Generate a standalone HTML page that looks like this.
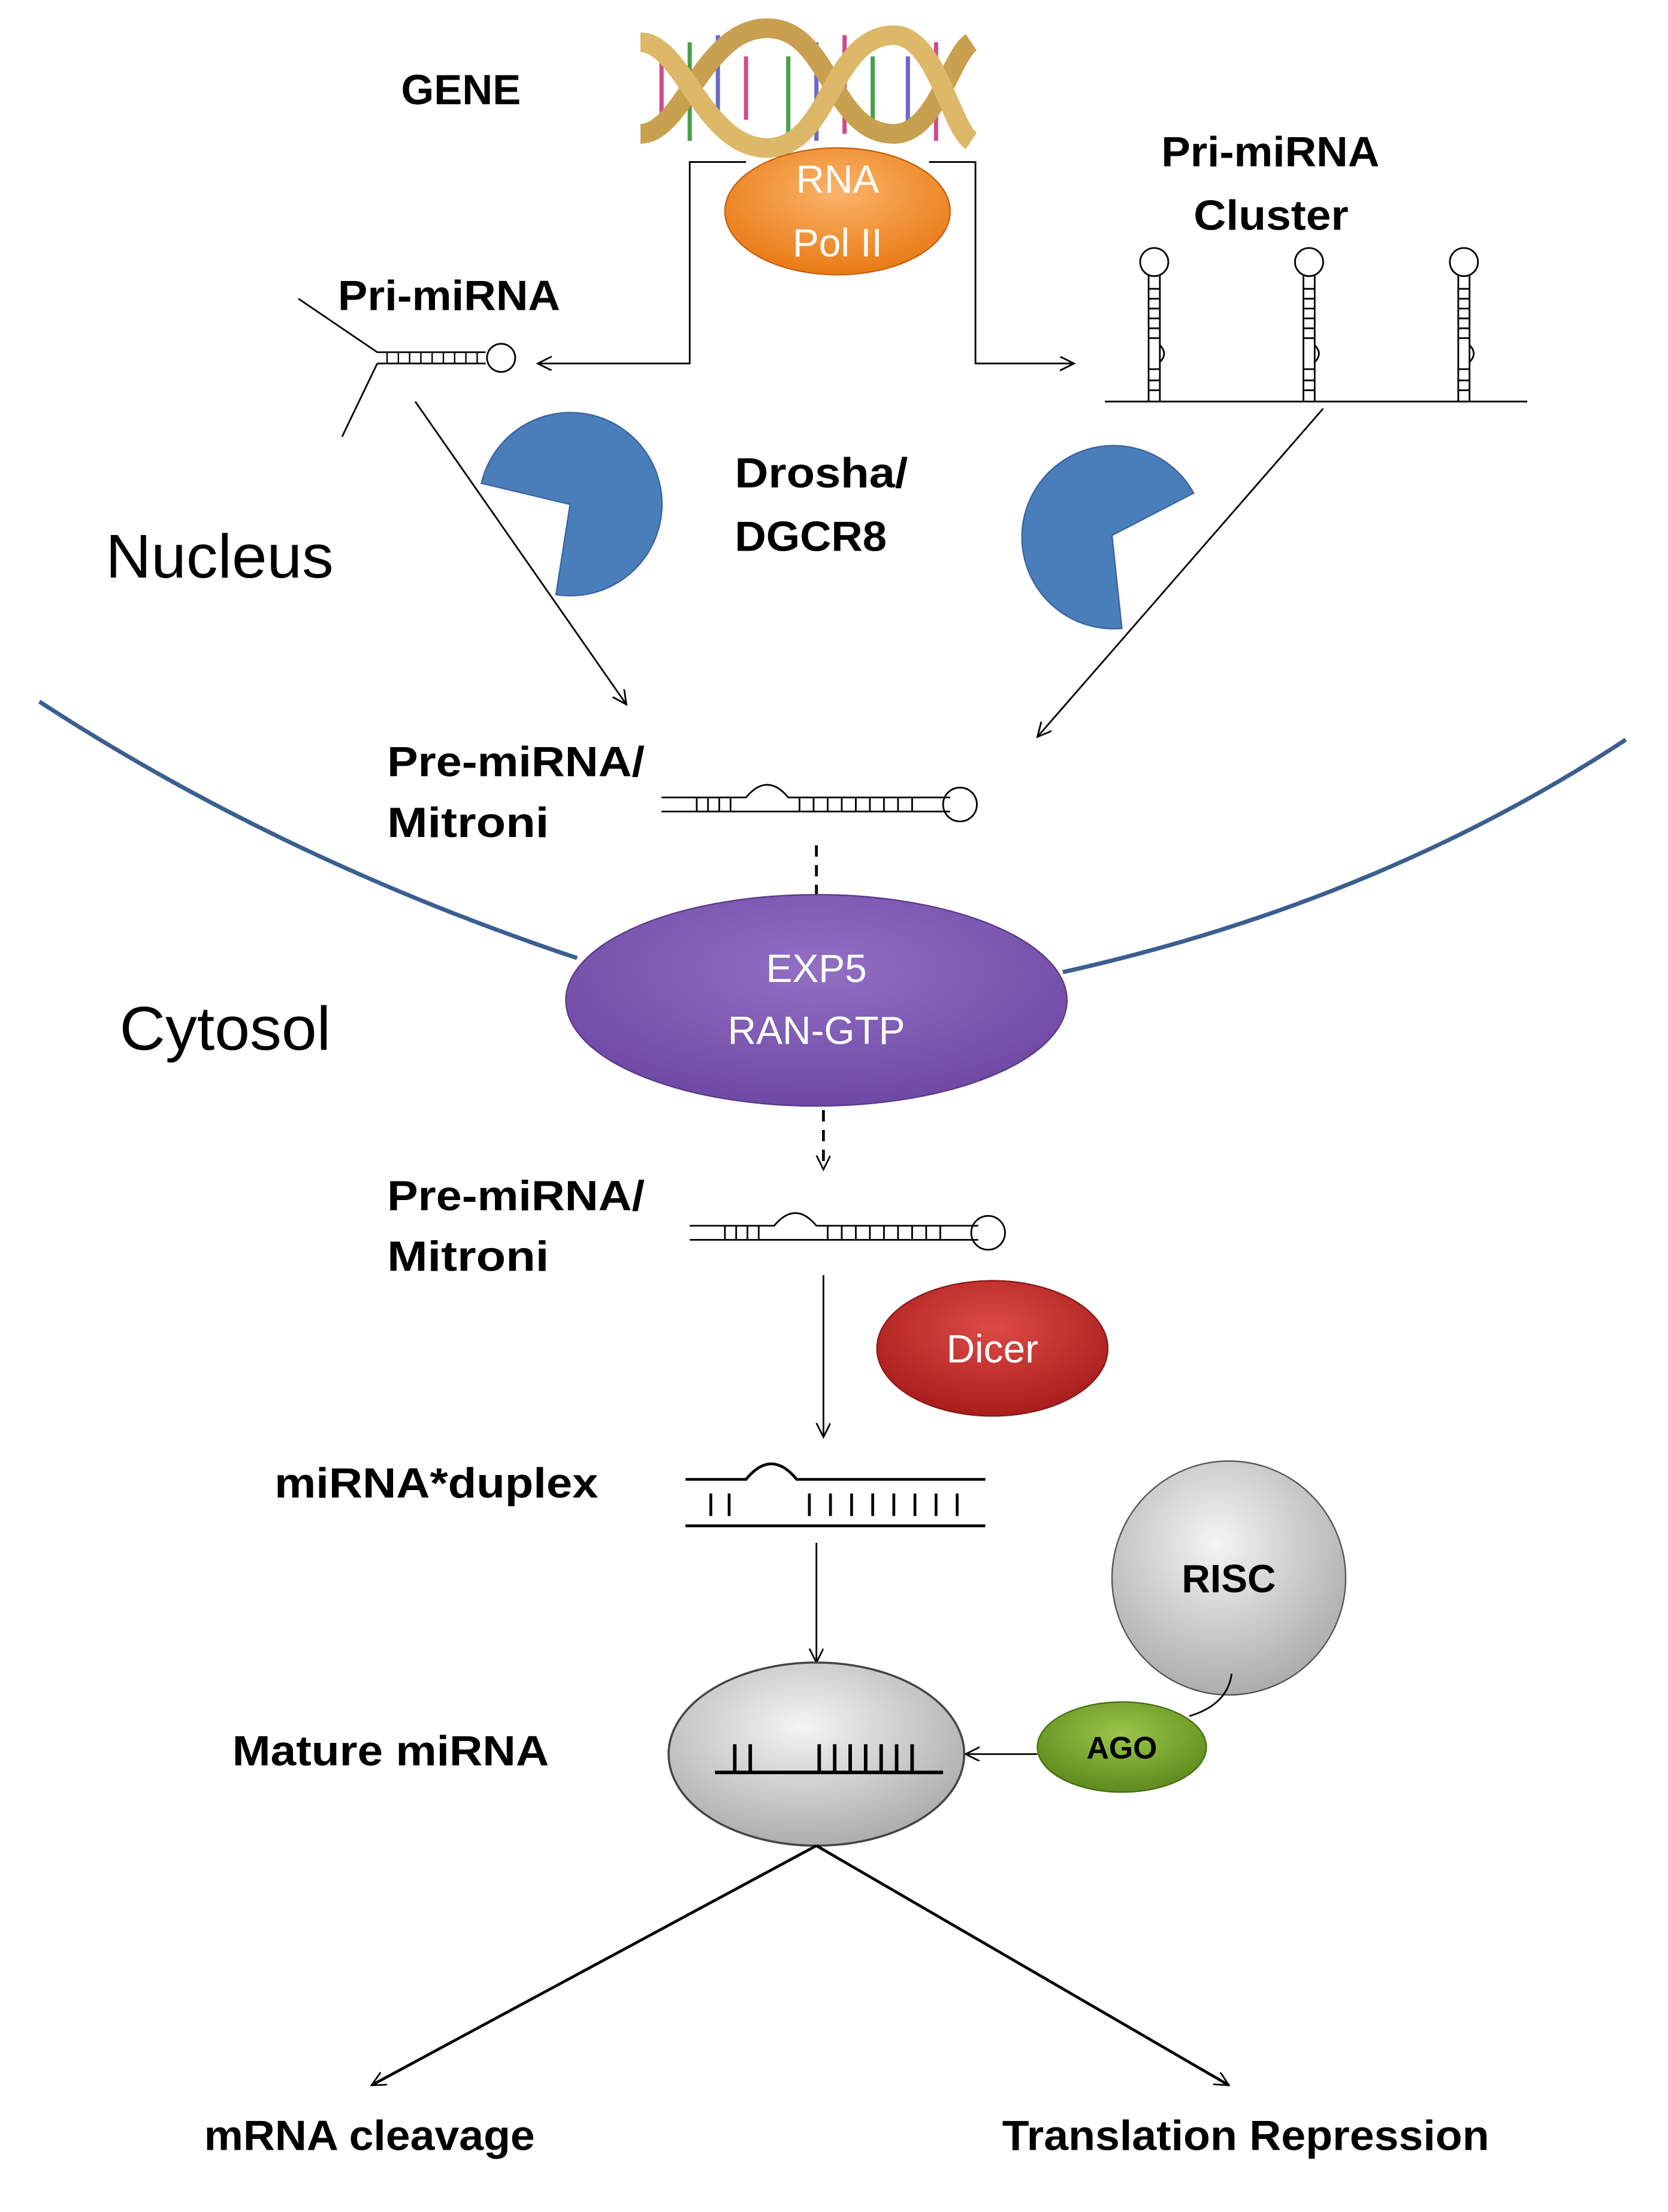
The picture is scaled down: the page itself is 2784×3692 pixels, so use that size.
<!DOCTYPE html>
<html><head><meta charset="utf-8"><style>
html,body{margin:0;padding:0;background:#fff;}
svg{display:block;}
text{font-family:"Liberation Sans",sans-serif;}
</style></head><body>
<svg width="2784" height="3692" viewBox="0 0 1185 1570" preserveAspectRatio="none" xmlns="http://www.w3.org/2000/svg">
<defs>
<marker id="a" markerWidth="12" markerHeight="12" refX="10" refY="5" orient="auto" markerUnits="userSpaceOnUse"><path d="M0,0 L10,5 L0,10" fill="none" stroke="#000" stroke-width="1.2"/></marker>
<radialGradient id="og" cx="50%" cy="35%" r="65%"><stop offset="0" stop-color="#fbb36a"/><stop offset="1" stop-color="#e97b14"/></radialGradient>
<radialGradient id="pg" cx="50%" cy="35%" r="65%"><stop offset="0" stop-color="#9270c4"/><stop offset="1" stop-color="#6e48a4"/></radialGradient>
<radialGradient id="rg" cx="50%" cy="35%" r="65%"><stop offset="0" stop-color="#dc4a45"/><stop offset="1" stop-color="#a81c1c"/></radialGradient>
<radialGradient id="gg" cx="45%" cy="35%" r="70%"><stop offset="0" stop-color="#f4f4f4"/><stop offset="1" stop-color="#a8a8a8"/></radialGradient>
<radialGradient id="agg" cx="50%" cy="35%" r="65%"><stop offset="0" stop-color="#9cc64a"/><stop offset="1" stop-color="#5c8a1c"/></radialGradient>
</defs>

<!-- DNA -->
<g stroke-width="3">
<line x1="470" y1="40" x2="470" y2="95" stroke="#d04a8a"/><line x1="490" y1="30" x2="490" y2="100" stroke="#4aa04a"/>
<line x1="510" y1="25" x2="510" y2="95" stroke="#6a6ac8"/><line x1="530" y1="40" x2="530" y2="85" stroke="#d04a8a"/>
<line x1="560" y1="40" x2="560" y2="95" stroke="#4aa04a"/><line x1="580" y1="30" x2="580" y2="100" stroke="#6a6ac8"/>
<line x1="600" y1="25" x2="600" y2="95" stroke="#d04a8a"/><line x1="620" y1="40" x2="620" y2="85" stroke="#4aa04a"/>
<line x1="645" y1="40" x2="645" y2="95" stroke="#6a6ac8"/><line x1="665" y1="30" x2="665" y2="100" stroke="#d04a8a"/>
</g>
<path d="M455,95 C485,95 500,20 545,20 C590,20 590,95 635,95 C665,95 675,40 690,30" fill="none" stroke="#c9a050" stroke-width="14"/>
<path d="M455,30 C485,30 500,105 545,105 C590,105 590,25 635,25 C665,25 675,90 690,100" fill="none" stroke="#dcb868" stroke-width="14"/>

<g font-weight="bold" font-size="30">
<text x="285" y="74" textLength="85" lengthAdjust="spacingAndGlyphs">GENE</text>
<text x="240" y="220" textLength="158" lengthAdjust="spacingAndGlyphs">Pri-miRNA</text>
<text x="825" y="118" textLength="155" lengthAdjust="spacingAndGlyphs">Pri-miRNA</text>
<text x="848" y="163" textLength="110" lengthAdjust="spacingAndGlyphs">Cluster</text>
<text x="522" y="346" textLength="123" lengthAdjust="spacingAndGlyphs">Drosha/</text>
<text x="522" y="391" textLength="108" lengthAdjust="spacingAndGlyphs">DGCR8</text>
<text x="275" y="551" textLength="183" lengthAdjust="spacingAndGlyphs">Pre-miRNA/</text>
<text x="275" y="594" textLength="115" lengthAdjust="spacingAndGlyphs">Mitroni</text>
<text x="275" y="859" textLength="183" lengthAdjust="spacingAndGlyphs">Pre-miRNA/</text>
<text x="275" y="902" textLength="115" lengthAdjust="spacingAndGlyphs">Mitroni</text>
<text x="195" y="1063" textLength="230" lengthAdjust="spacingAndGlyphs">miRNA*duplex</text>
<text x="165" y="1253" textLength="225" lengthAdjust="spacingAndGlyphs">Mature miRNA</text>
<text x="145" y="1526" textLength="235" lengthAdjust="spacingAndGlyphs">mRNA cleavage</text>
<text x="712" y="1526" textLength="346" lengthAdjust="spacingAndGlyphs">Translation Repression</text>
</g>

<!-- Pol II brackets -->
<polyline points="530,115 490,115 490,258 382,258" fill="none" stroke="#000" stroke-width="1.2" marker-end="url(#a)"/>
<polyline points="660,115 693,115 693,258 763,258" fill="none" stroke="#000" stroke-width="1.2" marker-end="url(#a)"/>
<ellipse cx="595" cy="150" rx="80" ry="45" fill="url(#og)" stroke="#c46210" stroke-width="1"/>
<text x="595" y="137" font-size="28" fill="#fff" text-anchor="middle">RNA</text>
<text x="595" y="182" font-size="28" fill="#fff" text-anchor="middle">Pol II</text>

<!-- Pri-miRNA -->
<path d="M212,212 L268,250 L345,250 M268,258 L345,258 M268,258 L243,310" fill="none" stroke="#000" stroke-width="1.2"/>
<circle cx="356" cy="254" r="10" fill="none" stroke="#000" stroke-width="1.2"/>
<path d="M275,250v8M283,250v8M291,250v8M299,250v8M307,250v8M315,250v8M323,250v8M331,250v8M339,250v8" stroke="#000" stroke-width="1"/>

<!-- Cluster -->
<line x1="785" y1="285" x2="1085" y2="285" stroke="#000" stroke-width="1.2"/>
<g fill="none" stroke="#000" stroke-width="1.2">
<g id="hp"><path d="M816,285 V195 M824,285 V195"/><circle cx="820" cy="186" r="10"/><path d="M816,205h8M816,212h8M816,219h8M816,226h8M816,233h8M816,240h8M816,262h8M816,270h8M816,277h8"/><path d="M824,245 q6,6 0,12"/></g>
<use href="#hp" x="110"/><use href="#hp" x="220"/>
</g>

<!-- Pacmen -->
<path d="M405,358 L342,343 A65,65 0 1 1 395,422 Z" fill="#4a7ebb" stroke="#3a64a0"/>
<path d="M790,380 L797,446 A65,65 0 1 1 848,350 Z" fill="#4a7ebb" stroke="#3a64a0"/>
<text x="75" y="410" font-size="44" textLength="162" lengthAdjust="spacingAndGlyphs">Nucleus</text>

<line x1="295" y1="285" x2="445" y2="500" stroke="#000" stroke-width="1.2" marker-end="url(#a)"/>
<line x1="940" y1="290" x2="737" y2="523" stroke="#000" stroke-width="1.2" marker-end="url(#a)"/>

<!-- membrane -->
<path d="M28,498 Q200,610 410,680" fill="none" stroke="#3a5f8f" stroke-width="3"/>
<path d="M755,690 Q980,640 1155,525" fill="none" stroke="#3a5f8f" stroke-width="3"/>

<!-- pre-miRNA 1 -->
<g fill="none" stroke="#000" stroke-width="1.2">
<path d="M470,566 H530 Q545,548 560,566 H675 M470,576 H675"/>
<circle cx="682" cy="571" r="12"/>
<path d="M495,566v10M503,566v10M511,566v10M519,566v10M568,566v10M578,566v10M588,566v10M598,566v10M608,566v10M618,566v10M628,566v10M638,566v10M648,566v10"/>
</g>
<line x1="580" y1="600" x2="580" y2="635" stroke="#000" stroke-width="2" stroke-dasharray="8,6"/>

<ellipse cx="580" cy="710" rx="178" ry="75" fill="url(#pg)" stroke="#5a3a8a"/>
<text x="580" y="697" font-size="28" fill="#fff" text-anchor="middle">EXP5</text>
<text x="580" y="741" font-size="28" fill="#fff" text-anchor="middle">RAN-GTP</text>
<text x="85" y="745" font-size="44" textLength="150" lengthAdjust="spacingAndGlyphs">Cytosol</text>

<line x1="585" y1="788" x2="585" y2="830" stroke="#000" stroke-width="2" stroke-dasharray="8,6" marker-end="url(#a)"/>

<!-- pre-miRNA 2 -->
<g fill="none" stroke="#000" stroke-width="1.2">
<path d="M490,870 H550 Q565,852 580,870 H695 M490,880 H695"/>
<circle cx="702" cy="875" r="12"/>
<path d="M515,870v10M523,870v10M531,870v10M539,870v10M588,870v10M598,870v10M608,870v10M618,870v10M628,870v10M638,870v10M648,870v10M658,870v10M668,870v10"/>
</g>
<line x1="585" y1="905" x2="585" y2="1020" stroke="#000" stroke-width="1.2" marker-end="url(#a)"/>
<ellipse cx="705" cy="957" rx="82" ry="48" fill="url(#rg)" stroke="#8a1a1a"/>
<text x="705" y="967" font-size="28" fill="#fff" text-anchor="middle">Dicer</text>

<!-- duplex -->
<g fill="none" stroke="#000" stroke-width="2">
<path d="M487,1050 H530 Q548,1028 566,1050 H700 M487,1083 H700"/>
<path d="M505,1060v16M518,1060v16M575,1060v16M590,1060v16M605,1060v16M620,1060v16M635,1060v16M650,1060v16M665,1060v16M680,1060v16"/>
</g>
<line x1="580" y1="1095" x2="580" y2="1180" stroke="#000" stroke-width="1.2" marker-end="url(#a)"/>

<!-- RISC / AGO -->
<circle cx="873" cy="1120" r="83" fill="url(#gg)" stroke="#555"/>
<text x="873" y="1130" font-size="28" font-weight="bold" text-anchor="middle">RISC</text>
<path d="M875,1188 Q872,1210 845,1218" fill="none" stroke="#000" stroke-width="1.2"/>
<ellipse cx="797" cy="1240" rx="60" ry="32" fill="url(#agg)" stroke="#4a6e14"/>
<text x="797" y="1248" font-size="22" font-weight="bold" text-anchor="middle">AGO</text>
<line x1="737" y1="1245" x2="686" y2="1245" stroke="#000" stroke-width="1.2" marker-end="url(#a)"/>

<!-- mature -->
<ellipse cx="580" cy="1245" rx="105" ry="65" fill="url(#gg)" stroke="#444" stroke-width="1.5"/>
<g stroke="#000" stroke-width="2.5">
<line x1="508" y1="1258" x2="670" y2="1258"/>
<path d="M522,1258v-20M533,1258v-20M582,1258v-20M593,1258v-20M604,1258v-20M615,1258v-20M626,1258v-20M637,1258v-20M648,1258v-20"/>
</g>

<line x1="580" y1="1310" x2="264" y2="1480" stroke="#000" stroke-width="2" marker-end="url(#a)"/>
<line x1="580" y1="1310" x2="873" y2="1480" stroke="#000" stroke-width="2" marker-end="url(#a)"/>
</svg>
</body></html>
